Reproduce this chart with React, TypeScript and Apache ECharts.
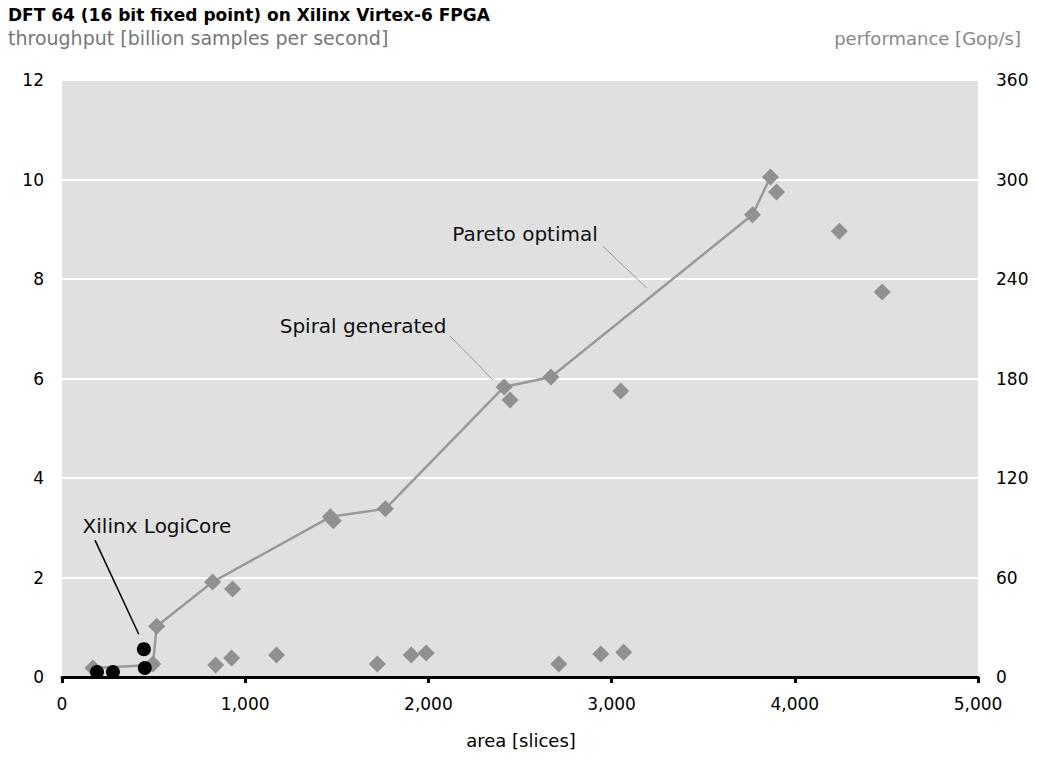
import React, { useEffect, useRef } from "react";
import * as echarts from "echarts";

const title = "DFT 64 (16 bit fixed point) on Xilinx Virtex-6 FPGA";
const leftAxisTitle = "throughput [billion samples per second]";
const rightAxisTitle = "performance [Gop/s]";
const xAxisTitle = "area [slices]";

// Spiral generated designs (area in slices, throughput in billion samples/s)
const spiralX = [169, 496, 517, 822, 931, 839, 926, 1171, 1721, 1906, 1988, 2712, 2941, 3066, 1465, 1481, 1765, 2413, 2446, 2669, 3050, 3769, 3867, 3900, 4243, 4477];
const spiralY = [0.18, 0.26, 1.02, 1.91, 1.77, 0.24, 0.38, 0.44, 0.26, 0.44, 0.48, 0.26, 0.46, 0.5, 3.22, 3.14, 3.38, 5.83, 5.57, 6.03, 5.75, 9.29, 10.05, 9.75, 8.96, 7.74];

// Pareto optimal frontier
const paretoX = [169, 496, 517, 822, 1465, 1765, 2413, 2669, 3769, 3867];
const paretoY = [0.18, 0.24, 1.02, 1.91, 3.22, 3.38, 5.83, 6.03, 9.29, 10.05];

// Xilinx LogiCore
const logiX = [191, 278, 452, 447];
const logiY = [0.1, 0.1, 0.18, 0.56];

const leftTicks = [0, 2, 4, 6, 8, 10, 12];
const rightTicks = [0, 60, 120, 180, 240, 300, 360];

const FONT = "DejaVu Sans";

export default function App() {
  const ref = useRef<HTMLDivElement>(null);
  useEffect(() => {
    if (!ref.current) return;
    const chart = echarts.init(ref.current, undefined, { renderer: "svg" });
    const zip = (xs: number[], ys: number[]) => xs.map((x, i) => [x, ys[i]]);
    chart.setOption({
      animation: false,
      textStyle: { fontFamily: FONT },
      grid: {
        left: 62,
        right: 59,
        top: 80,
        bottom: 82,
        show: true,
        backgroundColor: "#e0e0e0",
        borderWidth: 0,
      },
      xAxis: {
        type: "value",
        min: 0,
        max: 5000,
        interval: 1000,
        axisLine: { show: true, lineStyle: { color: "#000", width: 3 } },
        axisTick: { show: true, length: 6, lineStyle: { color: "#000", width: 3 } },
        splitLine: { show: false },
        axisLabel: {
          color: "#000",
          fontSize: 17,
          fontFamily: FONT,
          margin: 18,
          formatter: (v: number) => v.toLocaleString("en-US"),
        },
      },
      yAxis: [
        {
          type: "value",
          min: leftTicks[0],
          max: leftTicks[leftTicks.length - 1],
          interval: 2,
          axisLine: { show: false },
          axisTick: { show: false },
          splitLine: { show: true, lineStyle: { color: "#fff", width: 2 } },
          axisLabel: { color: "#000", fontSize: 17, fontFamily: FONT, margin: 18 },
        },
        {
          type: "value",
          min: rightTicks[0],
          max: rightTicks[rightTicks.length - 1],
          interval: 60,
          position: "right",
          axisLine: { show: false },
          axisTick: { show: false },
          splitLine: { show: false },
          axisLabel: { color: "#000", fontSize: 17, fontFamily: FONT, margin: 18 },
        },
      ],
      series: [
        {
          name: "Pareto optimal",
          type: "line",
          data: zip(paretoX, paretoY),
          showSymbol: false,
          symbol: "none",
          lineStyle: { color: "#999", width: 2.5 },
          z: 2,
          markLine: {
            silent: true,
            symbol: "none",
            label: { show: false },
            data: [
              [{ coord: [180, 2.75], lineStyle: { color: "#000", width: 1.5, type: "solid" } }, { coord: [419, 0.86] }],
              [{ coord: [2119, 6.85], lineStyle: { color: "#999", width: 1, type: "solid" } }, { coord: [2353, 5.97] }],
              [{ coord: [2952, 8.66], lineStyle: { color: "#999", width: 1, type: "solid" } }, { coord: [3192, 7.82] }],
            ],
          },
        },
        {
          name: "Spiral generated",
          type: "scatter",
          data: zip(spiralX, spiralY),
          symbol: "diamond",
          symbolSize: 17,
          itemStyle: { color: "#909090", opacity: 1 },
          z: 3,
        },
        {
          name: "Xilinx LogiCore",
          type: "scatter",
          data: zip(logiX, logiY),
          symbol: "circle",
          symbolSize: 14,
          itemStyle: { color: "#000", opacity: 1 },
          z: 4,
        },
      ],
      graphic: [
        { type: "text", x: 8, y: 15, style: { text: title, font: `bold 17px '${FONT}'`, fill: "#000", verticalAlign: "middle" } },
        { type: "text", x: 8, y: 38, style: { text: leftAxisTitle, font: `19px '${FONT}'`, fill: "#777", verticalAlign: "middle" } },
        { type: "text", x: 1021, y: 38, style: { text: rightAxisTitle, font: `18px '${FONT}'`, fill: "#888", align: "right", verticalAlign: "middle" } },
        { type: "text", x: 521, y: 740, style: { text: xAxisTitle, font: `18px '${FONT}'`, fill: "#000", align: "center", verticalAlign: "middle" } },
        { type: "text", x: 157, y: 526, style: { text: "Xilinx LogiCore", font: `20px '${FONT}'`, fill: "#111", align: "center", verticalAlign: "middle" } },
        { type: "text", x: 363, y: 326, style: { text: "Spiral generated", font: `20px '${FONT}'`, fill: "#111", align: "center", verticalAlign: "middle" } },
        { type: "text", x: 525, y: 234, style: { text: "Pareto optimal", font: `20px '${FONT}'`, fill: "#111", align: "center", verticalAlign: "middle" } },
      ],
    });
    return () => chart.dispose();
  }, []);
  return <div ref={ref} style={{ width: 1037, height: 759, margin: -8 }} />;
}
